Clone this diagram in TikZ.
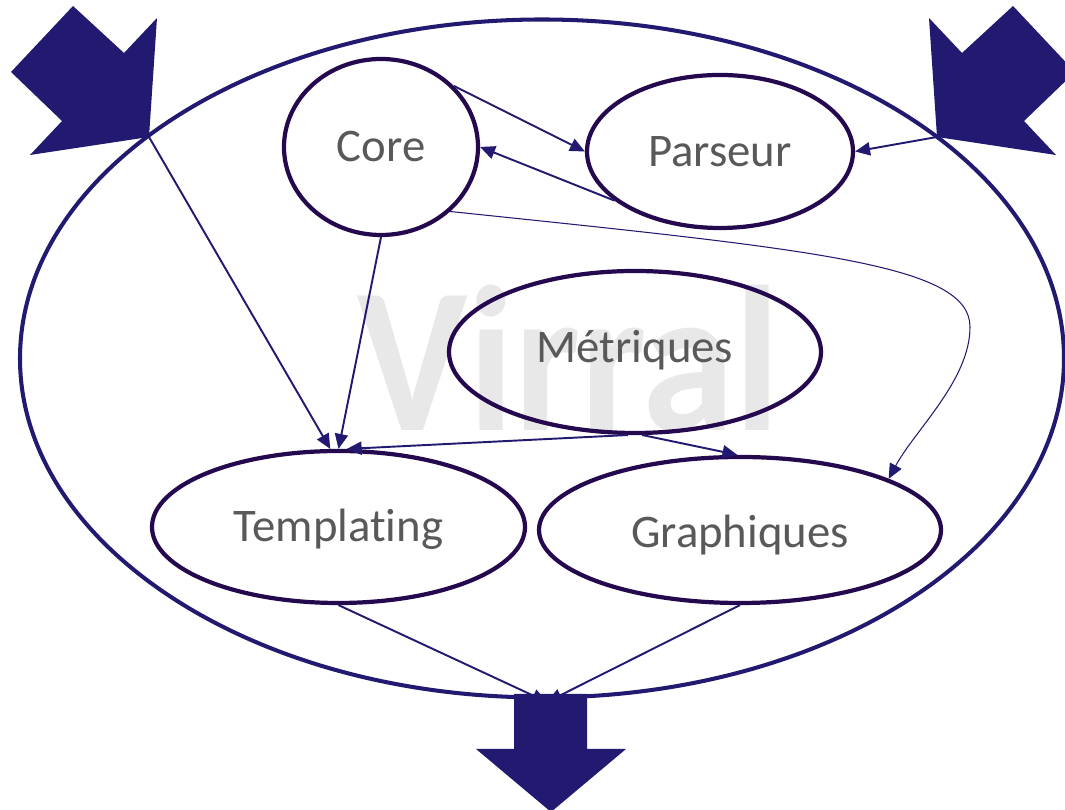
\documentclass[tikz,border=0pt]{standalone}
\usepackage{fontspec}
\setmainfont{Carlito}[Ligatures=NoCommon]
\usetikzlibrary{shapes.geometric,arrows.meta}
\definecolor{navy}{HTML}{221A70}
\definecolor{plum}{HTML}{25094F}
\definecolor{txtgray}{HTML}{595959}
\definecolor{wmgray}{HTML}{E8E8E8}
\begin{document}
\begin{tikzpicture}[line width=1.1pt,>={Triangle[length=8.5pt,width=7.5pt]},x=1cm,y=1cm,
	module/.style={ellipse,draw=plum,line width=2.4pt,inner sep=0pt,text=txtgray,
		font=\fontsize{26.6}{30}\selectfont,text height=17pt,text depth=0pt},
	link/.style={->,navy}]
	\useasboundingbox (0,0) rectangle (21.3,16.2);
	% filigrane
	\node[anchor=base west,inner sep=0pt,text=wmgray,xscale=0.9,
		font=\fontsize{118}{120}\selectfont\bfseries] (wm) at (7.14,7.58) {Virral};
	\draw[navy,line width=2.3pt] (10.84,9.03) ellipse [x radius=10.44,y radius=6.78];
	% modules
	\node[module,minimum width=3.88cm,minimum height=3.52cm] (core) at (7.62,13.26) {Core};
	\node[module,minimum width=5.32cm,minimum height=3.06cm] (pars) at (14.4,13.17) {Parseur};
	\node[module,minimum width=7.44cm,minimum height=3.24cm,text depth=5pt] (metr) at (12.7,9.16) {Métriques};
	\node[module,minimum width=7.46cm,minimum height=3.04cm] (templ) at (6.77,5.66) {Templating};
	\node[module,minimum width=8.04cm,minimum height=2.92cm,text height=20pt] (graph) at (14.8,5.6) {Graphiques};
	% grosses fleches
	\foreach \s/\n in {1/inL,-1/inR}{
		\begin{scope}[xshift=10.86cm,xscale=\s]
			\fill[navy] (-9.4,16.08) -- (-8.38,15.14) -- (-7.72,15.84) -- (-7.88,13.46) coordinate (\n)
			-- (-10.26,13.1) -- (-9.62,13.78) -- (-10.64,14.76) -- cycle;
		\end{scope}
	}
	\fill[navy] (10.28,2.32) -- (11.74,2.32) -- (11.74,1.22) -- (12.52,1.22) -- (11.02,-0.04)
	-- (9.52,1.22) -- (10.28,1.22) -- cycle;
	\path (10.94,2.16) coordinate (out);
	% liens
	\draw[link] (inL) -- (templ.96);
	\draw[link] (core.south) -- (templ.north);
	\draw[link] (metr.265) -- (templ.84);
	\draw[link] (metr.275) -- (graph.92);
	\draw[link] (core.40) -- (pars.west);
	\draw[link] (pars.205) -- (core.east);
	\draw[link] (inR) -- (pars.east);
	\draw[link,line width=0.6pt] (core.-43) .. controls (16.4,11.2) and (19.4,10.9) .. (19.4,9.66)
	.. controls (19.4,8.6) and (18.3,7.6) .. (graph.19);
	\draw[link] (templ.south) -- (out);
	\draw[link] (graph.south) -- (out);
\end{tikzpicture}
\end{document}
